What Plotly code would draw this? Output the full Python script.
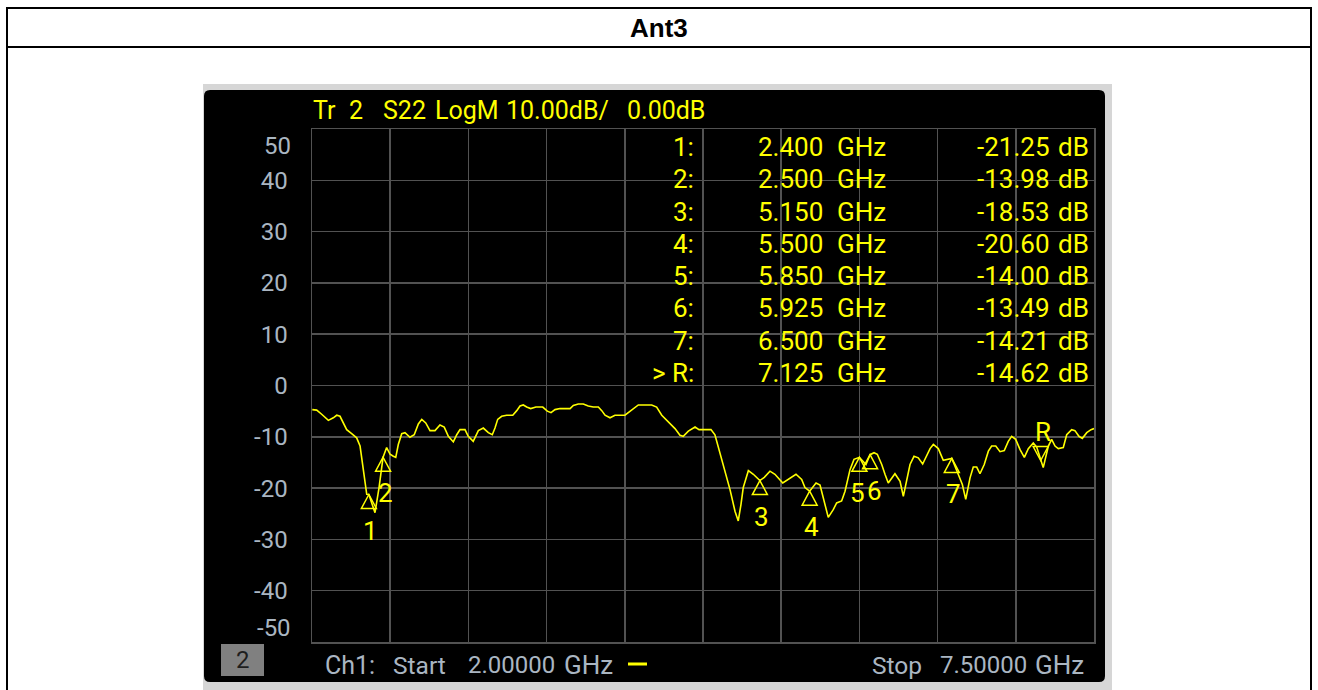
import plotly.graph_objects as go

# ---------------- data ----------------
freq_ghz = [2.002, 2.033, 2.068, 2.115, 2.150, 2.174, 2.197, 2.220, 2.244, 2.279, 2.314, 2.338, 2.354, 2.368, 2.385,
            2.400, 2.443, 2.471, 2.500, 2.525, 2.549, 2.572, 2.589, 2.607, 2.631, 2.654, 2.689, 2.719, 2.748, 2.772,
            2.800, 2.830, 2.865, 2.900, 2.930, 2.959, 2.994, 3.018, 3.041, 3.076, 3.099, 3.134, 3.170, 3.205, 3.240,
            3.268, 3.287, 3.306, 3.334, 3.369, 3.412, 3.440, 3.463, 3.486, 3.510, 3.538, 3.575, 3.623, 3.655, 3.681,
            3.709, 3.744, 3.815, 3.838, 3.873, 3.908, 3.943, 3.978, 4.014, 4.038, 4.061, 4.096, 4.131, 4.201, 4.237,
            4.295, 4.389, 4.424, 4.460, 4.506, 4.553, 4.588, 4.611, 4.647, 4.694, 4.722, 4.764, 4.806, 4.834, 4.870,
            4.905, 4.940, 4.975, 4.998, 5.017, 5.033, 5.069, 5.104, 5.150, 5.181, 5.221, 5.256, 5.311, 5.350, 5.404,
            5.444, 5.467, 5.500, 5.545, 5.573, 5.601, 5.631, 5.666, 5.690, 5.725, 5.749, 5.784, 5.812, 5.850, 5.896,
            5.925, 5.953, 5.976, 6.007, 6.030, 6.053, 6.100, 6.136, 6.159, 6.183, 6.206, 6.234, 6.264, 6.295, 6.323,
            6.347, 6.370, 6.405, 6.440, 6.500, 6.545, 6.574, 6.598, 6.612, 6.628, 6.651, 6.675, 6.698, 6.728, 6.757,
            6.780, 6.809, 6.839, 6.869, 6.897, 6.921, 6.949, 6.980, 7.010, 7.038, 7.073, 7.097, 7.125, 7.143, 7.179,
            7.202, 7.226, 7.249, 7.284, 7.308, 7.343, 7.366, 7.394, 7.418, 7.449, 7.479, 7.500]

s22_db = [-4.7, -4.8, -5.6, -6.8, -6.3, -5.8, -6.0, -7.3, -8.6, -9.4, -10.2, -11.8, -14.8, -18.0, -21.2,
          -21.25, -24.8, -20.0, -13.98, -12.1, -13.4, -13.8, -14.0, -11.5, -9.4, -9.2, -10.1, -9.6, -7.5, -6.6,
          -7.3, -8.8, -8.8, -7.7, -8.1, -9.9, -11.0, -9.6, -8.6, -8.6, -9.9, -10.9, -8.8, -8.3, -9.2,
          -9.6, -8.3, -6.6, -6.0, -5.8, -5.8, -4.9, -4.0, -3.8, -4.2, -4.5, -4.2, -4.2, -5.0, -5.3,
          -4.7, -4.5, -4.5, -3.9, -3.6, -3.6, -4.0, -4.2, -4.2, -4.9, -5.8, -6.3, -5.8, -5.8, -5.1,
          -3.8, -3.8, -4.2, -5.8, -7.1, -8.4, -9.7, -9.9, -8.9, -8.1, -8.6, -8.6, -8.6, -9.6, -13.1,
          -16.4, -20.3, -24.5, -26.4, -23.2, -19.9, -16.6, -17.3, -18.53, -17.9, -16.7, -17.3, -19.0, -18.3, -17.3,
          -18.3, -19.9, -20.6, -19.0, -19.4, -22.5, -25.7, -24.2, -22.9, -22.5, -20.6, -16.4, -14.4, -14.0, -15.4,
          -13.49, -13.1, -13.4, -15.4, -17.3, -19.0, -17.2, -18.7, -21.6, -18.7, -15.4, -13.8, -14.1, -15.3, -13.8,
          -12.3, -11.5, -12.3, -14.6, -14.21, -17.3, -19.3, -22.2, -20.3, -18.0, -15.9, -15.9, -17.2, -15.4, -12.8,
          -11.8, -11.8, -12.9, -12.7, -10.9, -9.9, -10.5, -12.5, -14.0, -12.3, -11.2, -12.0, -14.62, -16.0, -11.8,
          -10.5, -11.8, -12.3, -12.1, -9.6, -8.6, -8.8, -9.9, -10.3, -9.2, -8.6, -8.4]

marker_names = ["1", "2", "3", "4", "5", "6", "7", "R"]
marker_table_labels = ["1:", "2:", "3:", "4:", "5:", "6:", "7:", "> R:"]
marker_freq = [2.400, 2.500, 5.150, 5.500, 5.850, 5.925, 6.500, 7.125]
marker_db = [-21.25, -13.98, -18.53, -20.60, -14.00, -13.49, -14.21, -14.62]

y_ticks = [-40, -30, -20, -10, 0, 10, 20, 30, 40]
y_end_ticks = [50, -50]
start_ghz, stop_ghz = 2.0, 7.5
title_text = "Ant3"
header_words = ["Tr", "2", "S22", "LogM", "10.00dB/", "0.00dB"]
channel_label = "2"

assert len(freq_ghz) == len(s22_db), (len(freq_ghz), len(s22_db))

# ---------------- styling / layout helpers ----------------
W, H = 1318, 690
def px(x):
    return x / W
def py(y):
    return 1 - y / H

YEL = "#ffff00"
AXTXT = "#aab6c2"
GRID = "#525252"
FONT = "Roboto"
NB = "\u00a0"

def nb(s):
    return s.replace(" ", NB)

fig = go.Figure()
fig.add_trace(go.Scatter(x=freq_ghz, y=s22_db, mode="lines",
                         line=dict(color=YEL, width=1.6), hoverinfo="skip", showlegend=False))

shapes = []
# outer table frame
shapes += [
    dict(type="line", xref="paper", yref="paper", x0=px(6), x1=px(1312), y0=py(8), y1=py(8), line=dict(color="black", width=2)),
    dict(type="line", xref="paper", yref="paper", x0=px(6), x1=px(1312), y0=py(47), y1=py(47), line=dict(color="black", width=2)),
    dict(type="line", xref="paper", yref="paper", x0=px(7), x1=px(7), y0=py(8), y1=py(700), line=dict(color="black", width=2)),
    dict(type="line", xref="paper", yref="paper", x0=px(1311), x1=px(1311), y0=py(8), y1=py(700), line=dict(color="black", width=2)),
]
# screenshot frame and black panel
shapes.append(dict(type="rect", xref="paper", yref="paper", x0=px(203), x1=px(1112), y0=py(84), y1=py(695),
                   fillcolor="#d6d6d6", line=dict(width=0), layer="below"))
r = 6
L, R_, T, B = 204, 1105, 90, 682
path = (f"M{px(L+r)},{py(T)} L{px(R_-r)},{py(T)} Q{px(R_)},{py(T)} {px(R_)},{py(T+r)} "
        f"L{px(R_)},{py(B-r)} Q{px(R_)},{py(B)} {px(R_-r)},{py(B)} L{px(L+r)},{py(B)} "
        f"Q{px(L)},{py(B)} {px(L)},{py(B-r)} L{px(L)},{py(T+r)} Q{px(L)},{py(T)} {px(L+r)},{py(T)} Z")
shapes.append(dict(type="path", xref="paper", yref="paper", path=path, fillcolor="black",
                   line=dict(width=0), layer="below"))
# channel number box
shapes.append(dict(type="rect", xref="paper", yref="paper", x0=px(221), x1=px(264), y0=py(644), y1=py(676),
                   fillcolor="#808080", line=dict(width=0)))
# yellow dash after start text
shapes.append(dict(type="line", xref="paper", yref="paper", x0=px(628), x1=px(647), y0=py(664), y1=py(664),
                   line=dict(color=YEL, width=3)))
# reference-level triangles at 0 dB
shapes.append(dict(type="path", xref="x", yref="y", xsizemode="pixel", ysizemode="pixel",
                   xanchor=start_ghz, yanchor=0, path="M-8,5 L0,0 L-8,-5 Z", fillcolor=YEL, line=dict(width=0)))
shapes.append(dict(type="path", xref="x", yref="y", xsizemode="pixel", ysizemode="pixel",
                   xanchor=stop_ghz, yanchor=0, path="M9,5 L1,0 L9,-5 Z", fillcolor=YEL, line=dict(width=0)))
# marker triangles
for name, f, v in zip(marker_names, marker_freq, marker_db):
    p = "M0,0 L-7.5,14 L7.5,14 Z" if name == "R" else "M0,0 L-7.5,-14 L7.5,-14 Z"
    shapes.append(dict(type="path", xref="x", yref="y", xsizemode="pixel", ysizemode="pixel",
                       xanchor=f, yanchor=v, path=p, line=dict(color=YEL, width=1.5)))

ann = []
def text(x, y, s, color, size, xanchor="left", bold=False, family=FONT):
    ann.append(dict(xref="paper", yref="paper", x=px(x), y=py(y), text=nb(s) if not bold else f"<b>{s}</b>",
                    showarrow=False, xanchor=xanchor, yanchor="middle", borderpad=0,
                    font=dict(color=color, size=size, family=family)))

# title
text(659, 28, title_text, "black", 26, xanchor="center", bold=True, family="Liberation Sans")
# header (word positions as on the instrument screen)
for w, xx, anc in zip(header_words, [312, 348, 382, 434, 505, 706],
                      ["left", "left", "left", "left", "left", "right"]):
    text(xx, 111, w, YEL, 25, xanchor=anc)
# marker table
row_y = [146.7, 179.3, 211.7, 244.0, 276.0, 308.3, 340.7, 373.3]
for yy, lab, f, v in zip(row_y, marker_table_labels, marker_freq, marker_db):
    text(695, yy, lab, YEL, 26, xanchor="right")
    text(757, yy, f"{f:.3f}", YEL, 26, xanchor="left")
    text(836, yy, "GHz", YEL, 26, xanchor="left")
    text(1051, yy, f"{v:.2f}", YEL, 26, xanchor="right")
    text(1090, yy, "dB", YEL, 26, xanchor="right")
# y end tick labels
for val, yy in zip(y_end_ticks, [146, 628]):
    text(292, yy, f"{val}", AXTXT, 24, xanchor="right")
# bottom texts
for w, xx, sz in zip(["Ch1:", "Start", f"{start_ghz:.5f}", "GHz"], [324, 392, 467, 563], [25, 24.5, 24, 26]):
    text(xx, 665, w, AXTXT, sz)
for w, xx, sz in zip(["Stop", f"{stop_ghz:.5f}", "GHz"], [871, 939, 1034], [24.5, 24, 26]):
    text(xx, 665, w, AXTXT, sz)
text(242.5, 660, channel_label, "#1e1e1e", 24, xanchor="center")
# marker labels (5 and 6 nudged apart so they just touch, as on screen)
label_xshift = {"5": -2, "6": 4}
for name, f, v in zip(marker_names, marker_freq, marker_db):
    ann.append(dict(xref="x", yref="y", x=f, y=v, text=name, showarrow=False, borderpad=0,
                    xanchor="center", yanchor="middle", yshift=(29 if name == "R" else -36),
                    xshift=label_xshift.get(name, 2),
                    font=dict(color=YEL, size=26, family=FONT)))

fig.update_layout(
    width=W, height=H, margin=dict(l=0, r=0, t=0, b=0),
    paper_bgcolor="white", plot_bgcolor="rgba(0,0,0,0)",
    showlegend=False, shapes=shapes, annotations=ann,
    xaxis=dict(domain=[px(312), px(1094)], range=[start_ghz, stop_ghz], tick0=start_ghz,
               dtick=(stop_ghz - start_ghz) / 10, showgrid=True, gridcolor=GRID, gridwidth=1.5,
               showticklabels=False, ticks="", zeroline=False, showline=True, mirror=True,
               linecolor=GRID, linewidth=1.5, fixedrange=True),
    yaxis=dict(domain=[py(642), py(129)], range=[-50, 50], tickvals=y_ticks,
               ticktext=[str(t) for t in y_ticks], showgrid=True, gridcolor=GRID, gridwidth=1.5,
               tickfont=dict(color=AXTXT, size=24, family=FONT), ticks="", ticklabelstandoff=18,
               zeroline=False, showline=True, mirror=True, linecolor=GRID, linewidth=1.5, fixedrange=True),
)
fig.write_html("out.html", config={"displayModeBar": False, "staticPlot": True},
               post_script="document.body.style.margin='0';document.body.style.overflow='hidden';")
